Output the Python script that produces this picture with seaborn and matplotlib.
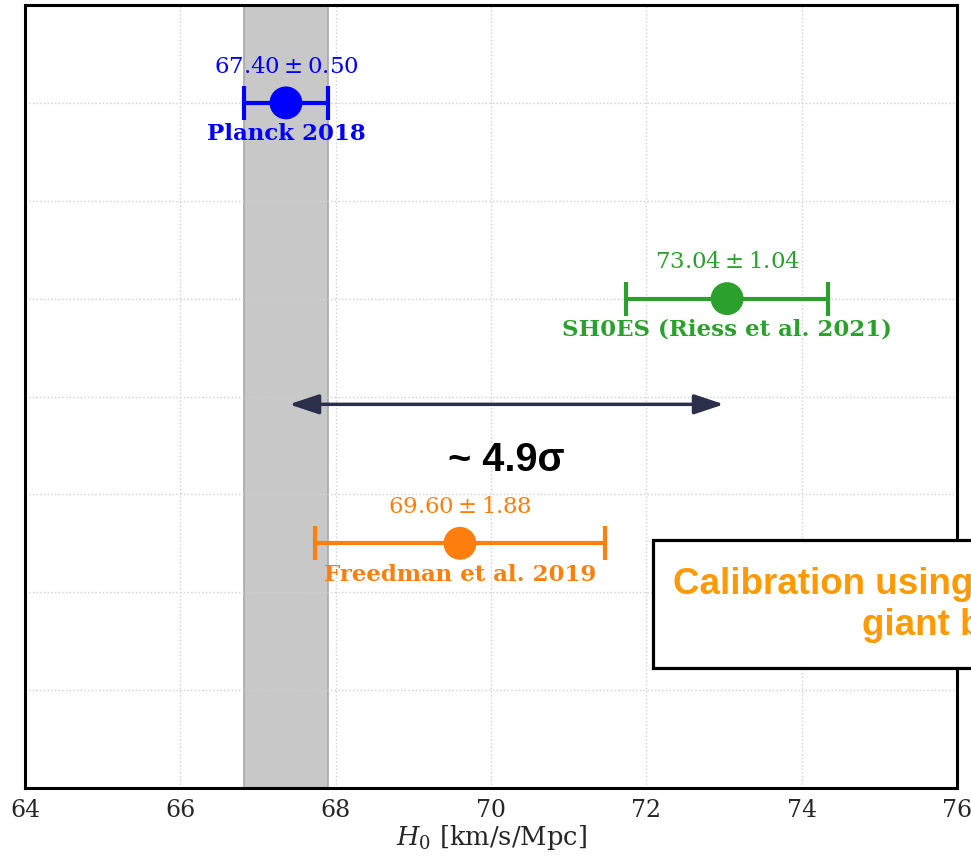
"""
H0 tension plot: Planck vs SH0ES vs TRGB (Freedman).
"""

import numpy as np
import pandas as pd
import seaborn as sns
import matplotlib

matplotlib.use("Agg")
import matplotlib.pyplot as plt
from matplotlib.patches import Rectangle

# --- data ---------------------------------------------------------------
names = ["Planck 2018", "SH0ES (Riess et al. 2021)", "Freedman et al. 2019"]
h0 = [67.36, 73.04, 69.60]
h0_err = [0.54, 1.30, 1.87]
row = [7.0, 5.0, 2.5]
value_text = [r"$67.40 \pm 0.50$", r"$73.04 \pm 1.04$", r"$69.60 \pm 1.88$"]
colors = ["#0000ff", "#2ca02c", "#ff7f0e"]

planck_band = [66.82, 67.90]
arrow_span = [67.40, 73.00]
arrow_row = 3.92
tension_text = "~ 4.9σ"
box_text = "Calibration using the tip of the red\ngiant branch"

df = pd.DataFrame({"name": names, "h0": h0, "err": h0_err, "row": row})

# --- style ----------------------------------------------------------------
sns.set_theme(style="white")
plt.rcParams["mathtext.fontset"] = "dejavuserif"
plt.rcParams["font.family"] = ["DejaVu Serif"]

fig = plt.figure(figsize=(9.71, 8.56), dpi=100)
ax = fig.add_axes([25 / 971, 68 / 856, 932 / 971, 783 / 856])

# Planck band
ax.axvspan(planck_band[0], planck_band[1], facecolor="#c8c8c8",
           edgecolor="#a8a8a8", linewidth=1.2, zorder=0)

# error bars + points
for i, r in df.iterrows():
    ax.errorbar(r["h0"], r["row"], xerr=r["err"], fmt="none",
                ecolor=colors[i], elinewidth=3, capsize=12.5,
                capthick=3, zorder=3)
sns.scatterplot(data=df, x="h0", y="row", hue="name", palette=colors,
                s=560, edgecolor="none", legend=False, ax=ax, zorder=4)

# labels above / below each point
for i in range(len(names)):
    ax.text(h0[i], row[i] + 0.37, value_text[i], ha="center", va="center",
            color=colors[i], fontsize=16.5)
    ax.text(h0[i], row[i] - 0.32, names[i], ha="center", va="center",
            color=colors[i], fontsize=16.5, fontweight="bold")

# tension arrow
ax.annotate("", xy=(arrow_span[1], arrow_row), xytext=(arrow_span[0], arrow_row),
            arrowprops=dict(arrowstyle="<|-|>,head_length=1.5,head_width=0.5",
                            color="#2b2f4a", lw=2.5, shrinkA=0, shrinkB=0))
ax.text(70.2, 3.35, tension_text, ha="center", va="center", fontsize=28.5,
        fontweight="bold", family="Liberation Sans", color="black")

# TRGB box (runs off the right edge)
ax.add_patch(Rectangle((72.09, 1.23), 6.0, 1.30, facecolor="white",
                       edgecolor="black", linewidth=2.3, clip_on=False,
                       zorder=5))
ax.text(72.34, 1.87, box_text, ha="left", va="center", multialignment="center",
        fontsize=26.5, fontweight="bold", family="Liberation Sans",
        color="#ff9900", clip_on=False, zorder=6, linespacing=1.22)

# axes
ax.set_xlim(64, 76)
ax.set_ylim(0, 8)
ax.set_xticks(np.arange(64, 77, 2))
ax.set_yticks(np.arange(1, 8))
ax.set_yticklabels([])
ax.grid(True, linestyle=":", color="#d0d0d0", linewidth=1)
ax.tick_params(axis="x", direction="in", length=7, width=1.5,
               labelsize=17, pad=8)
ax.tick_params(axis="y", length=0)
for s in ax.spines.values():
    s.set_color("black")
    s.set_linewidth(2.2)
ax.set_xlabel(r"$H_0$ [km/s/Mpc]", fontsize=18.5, labelpad=1)
ax.set_ylabel("")

fig.savefig("out.png", dpi=100)
plt.close(fig)
